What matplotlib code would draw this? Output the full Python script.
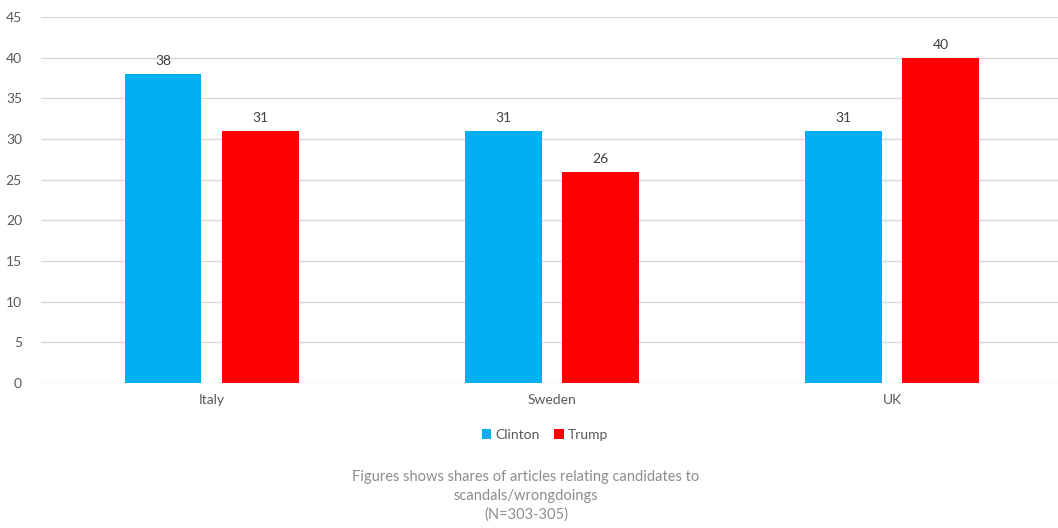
import matplotlib.pyplot as plt
import numpy as np

plt.rcParams['font.family'] = ['Lato', 'DejaVu Sans']

countries = ['Italy', 'Sweden', 'UK']
clinton = [38, 31, 31]
trump = [31, 26, 40]
yticks = list(range(0, 50, 5))

clinton_color = '#00B0F0'
trump_color = '#FF0000'
text_color = '#595959'

fig = plt.figure(figsize=(10.58, 5.28), dpi=100)
ax = fig.add_axes([0.0392, 0.2746, 0.9650, 0.6932])

x = np.arange(len(countries))
w = 0.226
off = 0.143

b1 = ax.bar(x - off, clinton, w, color=clinton_color, label='Clinton', zorder=3)
b2 = ax.bar(x + off, trump, w, color=trump_color, label='Trump', zorder=3)

for bars in (b1, b2):
    for rect in bars:
        ax.annotate(f'{rect.get_height():.0f}',
                    (rect.get_x() + rect.get_width() / 2, rect.get_height()),
                    xytext=(0, 5), textcoords='offset points',
                    ha='center', va='bottom', fontsize=10, color='#404040')

ax.set_xlim(-0.5, 2.5)
ax.set_ylim(0, 45)
ax.set_yticks(yticks)
ax.set_xticks(x)
ax.set_xticklabels(countries)
ax.tick_params(axis='both', length=0, labelsize=10, colors=text_color)
ax.tick_params(axis='x', pad=8)
ax.tick_params(axis='y', pad=14)
ax.grid(axis='y', color='#D9D9D9', linewidth=1, zorder=0)
for s in ax.spines.values():
    s.set_visible(False)

fig.legend(handles=[b1, b2], loc='center', bbox_to_anchor=(0.515, 0.176),
           ncol=2, frameon=False, fontsize=10, handlelength=0.7,
           handleheight=0.7, handletextpad=0.3, columnspacing=1.0,
           labelcolor=text_color)

fig.text(0.4972, 0.061,
         'Figures shows shares of articles relating candidates to\n'
         'scandals/wrongdoings\n(N=303-305)',
         ha='center', va='center', fontsize=10.5, color='#8C8C8C',
         linespacing=1.4)

fig.savefig('out.png', dpi=100)
